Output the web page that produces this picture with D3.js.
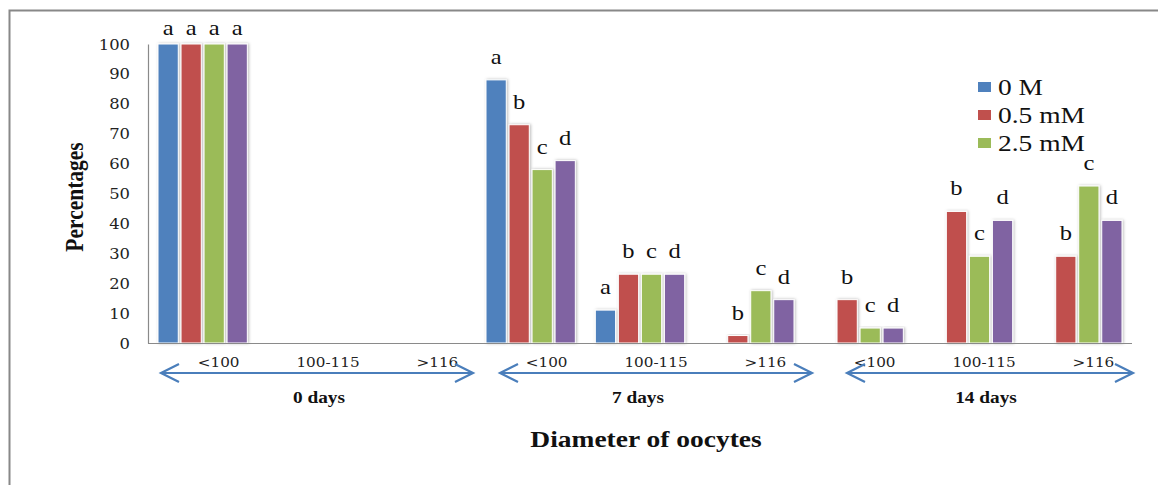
<!DOCTYPE html>
<html>
<head>
<meta charset="utf-8">
<script src="https://cdn.jsdelivr.net/npm/d3@7"></script>
<style>
  body { margin: 0; background: #fff; }
  svg { display: block; }
</style>
</head>
<body>
<div id="chart"></div>
<script>
// chart data
var days = ["0 days", "7 days", "14 days"];
var sizes = ["<100", "100-115", ">116"];
var series = ["0 M", "0.5 mM", "2.5 mM", "5 mM"];
var legendItems = ["0 M", "0.5 mM", "2.5 mM"];
var colors = ["#4f81bd", "#c0504d", "#9bbb59", "#8064a2"];
var yTicks = [0, 10, 20, 30, 40, 50, 60, 70, 80, 90, 100];

// one value per category (3 sizes x 3 days)
var vals0M   = [100, 0, 0, 88, 11, 0,   0,    0,  0];
var vals05mM = [100, 0, 0, 73, 23, 2.5, 14.5, 44, 29];
var vals25mM = [100, 0, 0, 58, 23, 17.5, 5,   29, 52.5];
var vals5mM  = [100, 0, 0, 61, 23, 14.5, 5,   41, 41];

var let0M   = ["a", "", "", "a", "a", "",  "",  "",  ""];
var let05mM = ["a", "", "", "b", "b", "b", "b", "b", "b"];
var let25mM = ["a", "", "", "c", "c", "c", "c", "c", "c"];
var let5mM  = ["a", "", "", "d", "d", "d", "d", "d", "d"];

var values = [vals0M, vals05mM, vals25mM, vals5mM];
var letters = [let0M, let05mM, let25mM, let5mM];

var W = 1158, H = 485;
var SX = 1.17; // the source picture is a bit wider than tall
var margin = { top: 44, left: 148, right: 26, bottom: 142 };

var svg = d3.select("#chart").append("svg")
  .attr("width", W)
  .attr("height", H);

var defs = svg.append("defs");
var f = defs.append("filter").attr("id", "glow")
  .attr("x", "-30%").attr("y", "-10%").attr("width", "160%").attr("height", "120%");
f.append("feDropShadow")
  .attr("dx", 1).attr("dy", 0)
  .attr("stdDeviation", 1.6)
  .attr("flood-color", "#000")
  .attr("flood-opacity", 0.28);

// frame
svg.append("path")
  .attr("d", "M9.5," + H + "V10.5H" + W)
  .attr("fill", "none")
  .attr("stroke", "#888")
  .attr("stroke-width", 2);

var x0 = d3.scaleBand()
  .domain(d3.range(9))
  .range([margin.left, W - margin.right])
  .paddingInner(0.183)
  .paddingOuter(0.0915);

var x1 = d3.scaleBand()
  .domain(d3.range(series.length))
  .range([0, x0.bandwidth()])
  .paddingInner(0.12);

var y = d3.scaleLinear()
  .domain([0, 100])
  .range([343, margin.top]);

function stretch(x, yy, rot) {
  return "translate(" + x + "," + yy + ") scale(" + SX + ",1)" + (rot ? " rotate(" + rot + ")" : "");
}

// y axis
var yAxis = svg.append("g")
  .attr("transform", "translate(" + margin.left + ",0)")
  .call(d3.axisLeft(y).tickValues(yTicks).tickSize(0).tickSizeOuter(0));
yAxis.select(".domain").attr("stroke", "#8a8a8a").attr("stroke-width", 1.2);
yAxis.selectAll("text")
  .attr("x", -18 / SX)
  .attr("dy", "0.36em")
  .attr("transform", "scale(" + SX + ",1)")
  .style("font-family", "DejaVu Serif")
  .style("font-size", "14px")
  .attr("fill", "#222");

// bars
var groups = svg.append("g").selectAll("g")
  .data(d3.range(9))
  .join("g")
  .attr("transform", function(i) { return "translate(" + x0(i) + ",0)"; });

groups.selectAll("rect")
  .data(function(i) {
    return series.map(function(s, k) { return { k: k, v: values[k][i] }; })
      .filter(function(d) { return d.v > 0; });
  })
  .join("rect")
  .attr("x", function(d) { return x1(d.k); })
  .attr("y", function(d) { return y(d.v); })
  .attr("width", x1.bandwidth())
  .attr("height", function(d) { return y(0) - y(d.v); })
  .attr("fill", function(d) { return colors[d.k]; })
  .attr("stroke", "#fff")
  .attr("stroke-width", 1)
  .attr("filter", "url(#glow)");

// significance letters
groups.selectAll("text.sig")
  .data(function(i) {
    return series.map(function(s, k) { return { k: k, v: values[k][i], t: letters[k][i] }; })
      .filter(function(d) { return d.t !== ""; });
  })
  .join("text")
  .attr("class", "sig")
  .attr("transform", function(d) {
    return stretch(x1(d.k) + x1.bandwidth() / 2, Math.max(y(d.v) - 16, 35));
  })
  .attr("text-anchor", "middle")
  .style("font-family", "Liberation Serif")
  .style("font-size", "21px")
  .attr("fill", "#111")
  .text(function(d) { return d.t; });

// x axis
var xAxis = svg.append("g")
  .attr("transform", "translate(0," + y(0) + ")")
  .call(d3.axisBottom(x0).tickSize(0).tickSizeOuter(0)
    .tickFormat(function(i) { return sizes[i % 3]; }));
xAxis.select(".domain")
  .attr("d", "M" + margin.left + ",0.5H" + (W - margin.right))
  .attr("stroke", "#8a8a8a").attr("stroke-width", 1.2);
xAxis.selectAll("text")
  .attr("x", 16 / SX)
  .attr("y", 24)
  .attr("dy", 0)
  .attr("transform", "scale(" + SX + ",1)")
  .style("font-family", "DejaVu Serif")
  .style("font-size", "13px")
  .attr("fill", "#222");

// day arrows and labels
var arrowPad = [[13, -3], [24, 8], [43, 1]];
var dayShift = [7, -2, 18];
var arrowY = 373;
var arrows = svg.append("g");
days.forEach(function(d, j) {
  var a = x0(j * 3) - x0.step() * x0.paddingInner() / 2 + arrowPad[j][0];
  var b = x0(j * 3 + 2) + x0.bandwidth() + x0.step() * x0.paddingInner() / 2 + arrowPad[j][1];
  arrows.append("path")
    .attr("d", "M" + a + "," + arrowY + "H" + b +
      "M" + (a + 18) + "," + (arrowY - 9) + "L" + a + "," + arrowY + "L" + (a + 18) + "," + (arrowY + 9) +
      "M" + (b - 18) + "," + (arrowY - 9) + "L" + b + "," + arrowY + "L" + (b - 18) + "," + (arrowY + 9))
    .attr("fill", "none")
    .attr("stroke", "#4a7ebb")
    .attr("stroke-width", 2.2);
  arrows.append("text")
    .attr("transform", stretch(x0(j * 3 + 1) + x0.bandwidth() / 2 + dayShift[j], 403))
    .attr("text-anchor", "middle")
    .style("font-family", "Liberation Serif")
    .style("font-weight", "bold")
    .style("font-size", "16.5px")
    .attr("fill", "#111")
    .text(d);
});

// axis titles
svg.append("text")
  .attr("transform", stretch(646, 447))
  .attr("text-anchor", "middle")
  .style("font-family", "Liberation Serif")
  .style("font-weight", "bold")
  .style("font-size", "23.5px")
  .attr("fill", "#111")
  .text("Diameter of oocytes");

svg.append("text")
  .attr("transform", stretch(83, 197, -90))
  .attr("text-anchor", "middle")
  .style("font-family", "Liberation Serif")
  .style("font-weight", "bold")
  .style("font-size", "21.5px")
  .attr("fill", "#111")
  .text("Percentages");

// legend
var legend = svg.append("g").attr("transform", "translate(978,82)");
var li = legend.selectAll("g")
  .data(legendItems)
  .join("g")
  .attr("transform", function(d, i) { return "translate(0," + (i * 28) + ")"; });
li.append("rect")
  .attr("width", 13).attr("height", 10)
  .attr("fill", function(d, i) { return colors[i]; });
li.append("text")
  .attr("transform", stretch(20, 13))
  .style("font-family", "Liberation Serif")
  .style("font-size", "23.5px")
  .attr("fill", "#111")
  .text(function(d) { return d; });
</script>
</body>
</html>
